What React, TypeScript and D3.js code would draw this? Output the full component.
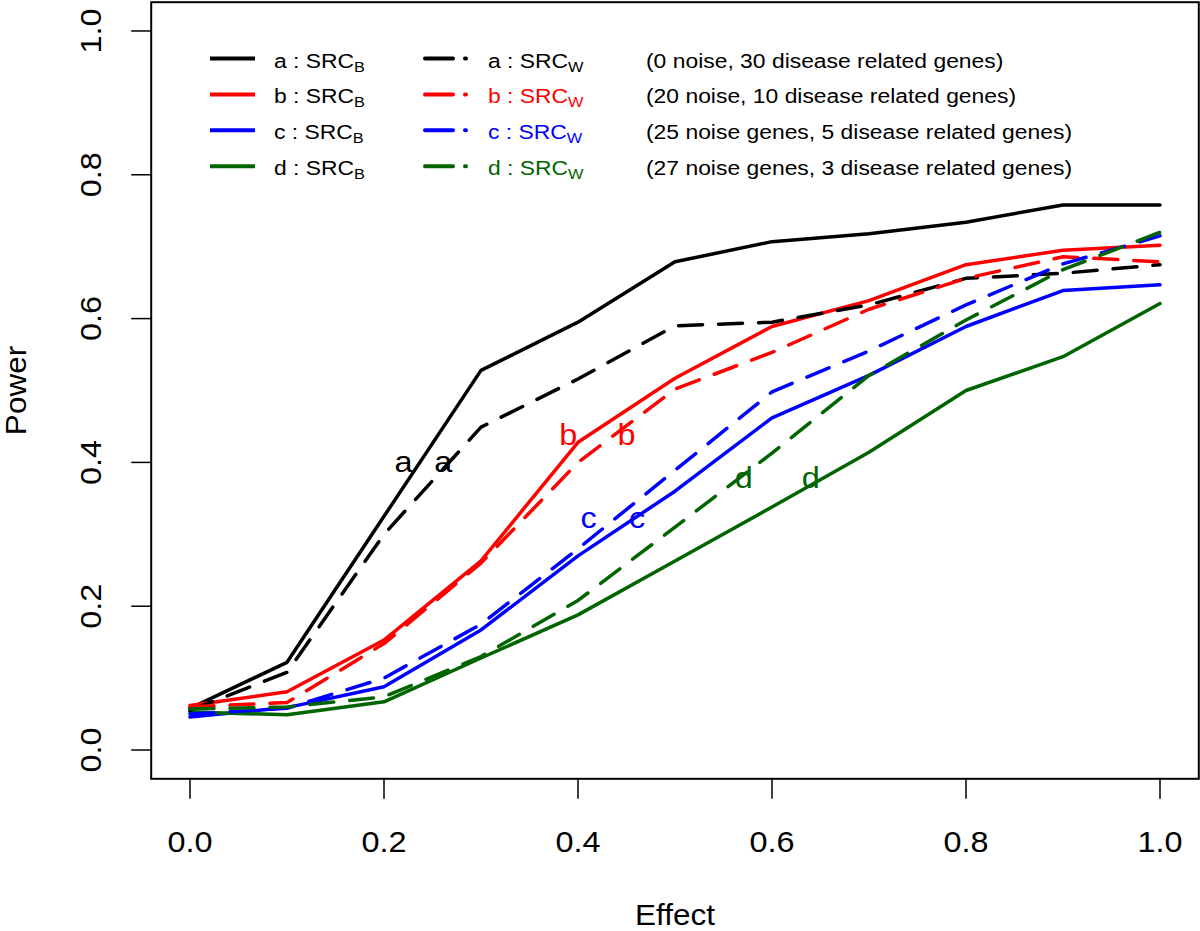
import React from 'react';
import * as d3 from 'd3';

const effect = [0, 0.1, 0.2, 0.3, 0.4, 0.5, 0.6, 0.7, 0.8, 0.9, 1.0];
const aSRCB = [0.058, 0.122, 0.325, 0.528, 0.595, 0.679, 0.707, 0.718, 0.734, 0.758, 0.758];
const aSRCW = [0.055, 0.108, 0.300, 0.449, 0.516, 0.590, 0.595, 0.619, 0.656, 0.663, 0.675];
const bSRCB = [0.062, 0.081, 0.153, 0.263, 0.428, 0.517, 0.589, 0.625, 0.675, 0.695, 0.702];
const bSRCW = [0.060, 0.066, 0.148, 0.260, 0.400, 0.502, 0.553, 0.613, 0.656, 0.686, 0.679];
const cSRCB = [0.046, 0.059, 0.088, 0.167, 0.270, 0.360, 0.462, 0.521, 0.589, 0.639, 0.647];
const cSRCW = [0.050, 0.058, 0.100, 0.175, 0.280, 0.389, 0.498, 0.555, 0.619, 0.676, 0.715];
const dSRCB = [0.053, 0.049, 0.067, 0.128, 0.188, 0.263, 0.338, 0.414, 0.500, 0.547, 0.621];
const dSRCW = [0.057, 0.060, 0.074, 0.130, 0.208, 0.310, 0.413, 0.521, 0.598, 0.668, 0.720];

const seriesNames = ['a', 'b', 'c', 'd'];
const seriesColors = ['#000000', '#ff0000', '#0000ff', '#006400'];
const solidSeries = [aSRCB, bSRCB, cSRCB, dSRCB];
const dashedSeries = [aSRCW, bSRCW, cSRCW, dSRCW];
const descriptions = [
  '(0 noise, 30 disease related genes)',
  '(20 noise, 10 disease related genes)',
  '(25 noise genes, 5 disease related genes)',
  '(27 noise genes, 3 disease related genes)',
];
const xTicks = [0, 0.2, 0.4, 0.6, 0.8, 1.0];
const yTicks = [0, 0.2, 0.4, 0.6, 0.8, 1.0];
// in-plot letter labels (data coordinates, baseline)
const labelX1 = [0.220, 0.390, 0.411, 0.571];
const labelX2 = [0.261, 0.450, 0.461, 0.640];
const labelY = [0.387, 0.424, 0.309, 0.364];

const FONT = '"Liberation Sans", Arial, Helvetica, sans-serif';
const SX = 1.08;

export default function App() {
  const W = 1200, H = 931;
  const x = d3.scaleLinear().domain([-0.04, 1.04]).range([151.2, 1198.8]);
  const y = d3.scaleLinear().domain([-0.04, 1.04]).range([778.8, 2.2]);
  const line = d3.line<number>().x((_, i) => x(effect[i])).y((d) => y(d));
  const boxL = x(-0.04), boxR = x(1.04), boxT = y(1.04), boxB = y(-0.04);

  const legendRowY = (i: number) => 58.5 + i * 35.9;

  return (
    <svg width={W} height={H} style={{ position: 'absolute', left: 0, top: 0, background: '#fff' }} fontFamily={FONT}>
      <rect x={0} y={0} width={W} height={H} fill="#fff" />
      {/* data lines */}
      {solidSeries.map((s, i) => (
        <path key={'s' + i} d={line(s) || ''} fill="none" stroke={seriesColors[i]} strokeWidth={3.5} strokeLinejoin="round" strokeLinecap="round" />
      ))}
      {dashedSeries.map((s, i) => (
        <path key={'d' + i} d={line(s) || ''} fill="none" stroke={seriesColors[i]} strokeWidth={3.5} strokeDasharray="24 16" strokeLinejoin="round" strokeLinecap="round" />
      ))}
      {/* letter labels */}
      {seriesNames.map((n, i) => (
        <g key={'lab' + i} fill={seriesColors[i]} fontSize={30}>
          <text transform={`translate(${x(labelX1[i])},${y(labelY[i])}) scale(${SX},1)`} textAnchor="middle">{n}</text>
          <text transform={`translate(${x(labelX2[i])},${y(labelY[i])}) scale(${SX},1)`} textAnchor="middle">{n}</text>
        </g>
      ))}
      {/* box */}
      <rect x={boxL} y={boxT} width={boxR - boxL} height={boxB - boxT} fill="none" stroke="#000" strokeWidth={2} />
      {/* x axis */}
      {xTicks.map((t) => (
        <g key={'xt' + t}>
          <line x1={x(t)} x2={x(t)} y1={boxB} y2={boxB + 20} stroke="#000" strokeWidth={1.5} />
          <text transform={`translate(${x(t)},852) scale(${SX},1)`} textAnchor="middle" fontSize={30}>{t.toFixed(1)}</text>
        </g>
      ))}
      {/* y axis */}
      {yTicks.map((t) => (
        <g key={'yt' + t}>
          <line x1={boxL - 20} x2={boxL} y1={y(t)} y2={y(t)} stroke="#000" strokeWidth={1.5} />
          <text transform={`translate(101,${y(t)}) rotate(-90) scale(${SX},1)`} textAnchor="middle" fontSize={30}>{t.toFixed(1)}</text>
        </g>
      ))}
      <text transform={`translate(${x(0.5)},925) scale(1.05,1)`} textAnchor="middle" fontSize={30}>Effect</text>
      <text transform={`translate(26,${(boxT + boxB) / 2}) rotate(-90) scale(1.05,1)`} textAnchor="middle" fontSize={30}>Power</text>
      {/* legend */}
      {seriesNames.map((n, i) => {
        const ry = legendRowY(i);
        const c = seriesColors[i];
        return (
          <g key={'leg' + i}>
            <line x1={210} x2={255} y1={ry} y2={ry} stroke={c} strokeWidth={4} />
            <text transform={`translate(274,${ry + 9}) scale(1.09,1)`} fontSize={21} fill="#000">
              {n} : SRC<tspan fontSize={15} dy={4}>B</tspan>
            </text>
            <line x1={425} x2={466} y1={ry} y2={ry} stroke={c} strokeWidth={4} strokeDasharray="28 12" strokeLinecap="round" />
            <text transform={`translate(488,${ry + 9}) scale(1.09,1)`} fontSize={21} fill={c}>
              {n} : SRC<tspan fontSize={15} dy={4}>W</tspan>
            </text>
            <text transform={`translate(646,${ry + 9}) scale(1.09,1)`} fontSize={21} fill="#000">{descriptions[i]}</text>
          </g>
        );
      })}
    </svg>
  );
}
